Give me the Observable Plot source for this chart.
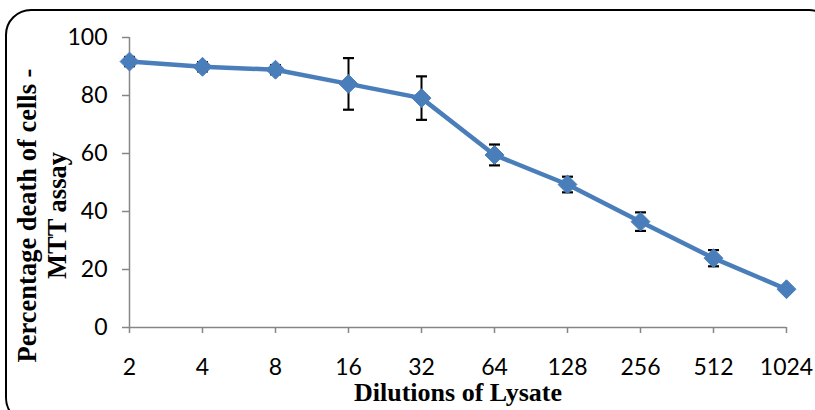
<!DOCTYPE html>
<html>
<head>
<meta charset="utf-8">
<script src="https://cdn.jsdelivr.net/npm/d3@7"></script>
<script src="https://cdn.jsdelivr.net/npm/@observablehq/plot@0.6"></script>
<style>
  html, body { margin: 0; padding: 0; background: #fff; overflow: hidden; }
  #wrap { position: relative; width: 815px; height: 410px; overflow: hidden; }
  #frame { position: absolute; left: 5px; top: 9px; width: 830px; height: 415px;
           border: 2px solid #000; border-radius: 26px; box-sizing: border-box; pointer-events: none; }
  #chart { position: absolute; left: 0; top: 0; }
</style>
</head>
<body>
<div id="wrap"><div id="chart"></div><div id="frame"></div></div>
<script>
const dilutions = ["2", "4", "8", "16", "32", "64", "128", "256", "512", "1024"];
const meanDeath = [91.7, 89.9, 88.9, 84.0, 79.1, 59.5, 49.3, 36.5, 23.9, 13.2];
const errDeath  = [1.6, 1.6, 1.6, 8.9, 7.5, 3.6, 2.7, 3.2, 2.8, 0.9];
const yTicks = [0, 20, 40, 60, 80, 100];
const xTitle = "Dilutions of Lysate";
const yTitle = "Percentage death of cells -\nMTT assay";

const rows = dilutions.map((d, i) => ({d, v: meanDeath[i], lo: meanDeath[i] - errDeath[i], hi: meanDeath[i] + errDeath[i]}));

const capSymbol = {
  draw(ctx, size) {
    const w = Math.sqrt(size) / 2;
    ctx.moveTo(-w, 0);
    ctx.lineTo(w, 0);
  }
};
const blue = "#4a7ebb";
const axisGray = "#868686";

const chart = Plot.plot({
  width: 815,
  height: 410,
  marginLeft: 129,
  marginRight: 29,
  marginTop: 37,
  marginBottom: 83,
  style: {fontFamily: "Lato, sans-serif", fontSize: "23px", color: "#000", background: "transparent"},
  x: {type: "point", domain: dilutions, padding: 0},
  y: {domain: [0, 100]},
  marks: [
    Plot.axisY({ticks: yTicks, tickSize: 7, tickPadding: 15, stroke: axisGray, strokeWidth: 1.5, label: null, fontSize: 23, fill: "#000"}),
    Plot.axisX({tickSize: 6, tickPadding: 25, stroke: axisGray, strokeWidth: 1.5, label: null, fontSize: 23, fill: "#000"}),
    Plot.ruleX([dilutions[0]], {stroke: axisGray, strokeWidth: 1.5}),
    Plot.ruleY([0], {stroke: axisGray, strokeWidth: 1.5}),
    Plot.ruleX(rows, {x: "d", y1: "lo", y2: "hi", stroke: "#000", strokeWidth: 2}),
    Plot.dot(rows, {x: "d", y: "lo", symbol: capSymbol, r: 6.2, stroke: "#000", strokeWidth: 2.2, fill: "none"}),
    Plot.dot(rows, {x: "d", y: "hi", symbol: capSymbol, r: 6.2, stroke: "#000", strokeWidth: 2.2, fill: "none"}),
    Plot.line(rows, {x: "d", y: "v", stroke: blue, strokeWidth: 4.5}),
    Plot.dot(rows, {x: "d", y: "v", symbol: "diamond2", r: 8.5, fill: blue, stroke: blue, strokeWidth: 1}),
    Plot.text([xTitle], {frameAnchor: "bottom", dy: 65, fontFamily: "'Liberation Serif', 'Times New Roman', serif", fontWeight: "bold", fontSize: 26, fill: "#000", lineAnchor: "middle"}),
    Plot.text([yTitle], {frameAnchor: "left", textAnchor: "middle", rotate: -90, dx: -88, dy: 33, fontFamily: "'Liberation Serif', 'Times New Roman', serif", fontWeight: "bold", fontSize: 26.5, lineHeight: 1.15, fill: "#000", lineAnchor: "middle"})
  ]
});
document.getElementById("chart").appendChild(chart);
</script>
</body>
</html>
